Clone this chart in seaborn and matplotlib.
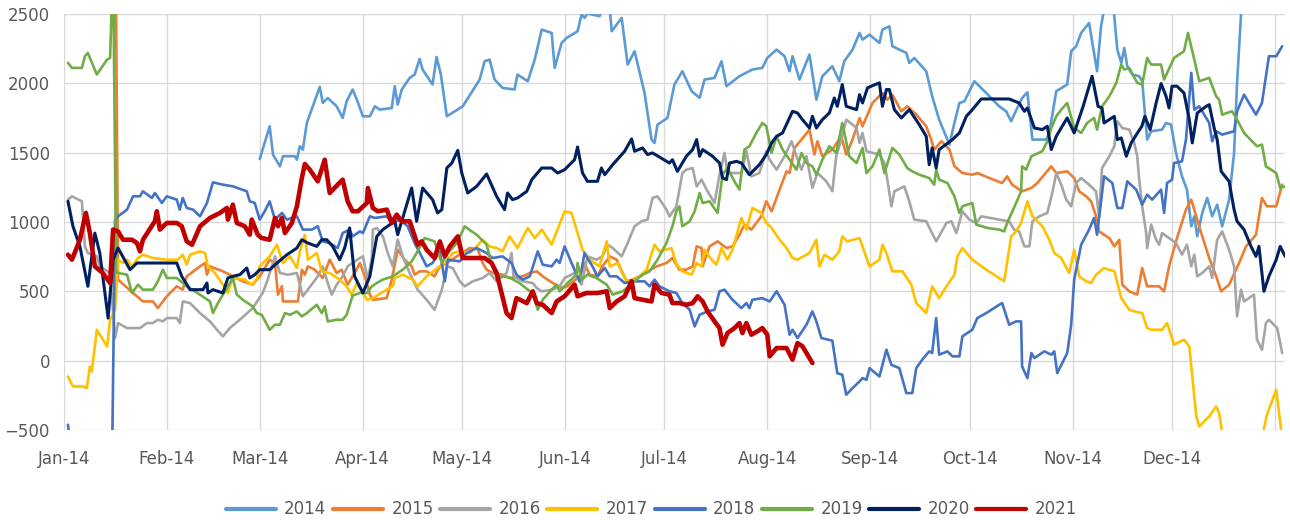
import pandas as pd
import matplotlib
matplotlib.use('Agg')
import matplotlib.pyplot as plt
import seaborn as sns

start = pd.Timestamp('2014-01-01')

# (days since 1 Jan, value)
pts_2014 = [(59.0, 1455), (62.0, 1691), (63.0, 1487), (65.1, 1402), (66.0, 1475), (69.6, 1475), (70.2, 1450),
            (71.1, 1547), (72.0, 1523), (73.2, 1715), (75.0, 1835), (77.1, 1975), (78.0, 1860), (79.5, 1895),
            (82.2, 1835), (84.0, 1751), (85.2, 1871), (87.0, 1956), (88.3, 1883), (90.1, 1763), (92.2, 1763),
            (93.7, 1835), (95.2, 1811), (98.8, 1823), (99.7, 1980), (100.6, 1847), (101.8, 1956), (104.2, 2040),
            (105.7, 2064), (107.2, 2177), (108.1, 2100), (111.1, 1992), (112.3, 2191), (113.6, 2064), (115.4, 1763),
            (120.2, 1835), (125.3, 2028), (126.8, 2160), (128.3, 2172), (129.8, 2028), (132.2, 1968), (135.8, 1956),
            (136.7, 2064), (139.8, 2016), (141.9, 2172), (144.0, 2388), (147.0, 2364), (147.9, 2112), (150.0, 2292),
            (151.5, 2328), (154.8, 2376), (156.0, 2497), (156.9, 2473), (157.8, 2504), (161.4, 2485), (163.0, 2560),
            (164.5, 2540), (165.1, 2376), (168.1, 2473), (169.9, 2136), (172.0, 2232), (175.0, 1931), (177.1, 1595),
            (178.0, 1571), (178.9, 1703), (181.9, 1751), (184.0, 1992), (186.4, 2088), (189.2, 1944), (191.6, 1896),
            (193.1, 2028), (196.1, 2040), (198.2, 2160), (199.7, 1980), (203.6, 2052), (207.5, 2100), (210.5, 2112),
            (212.0, 2184), (214.8, 2244), (217.2, 2196), (218.7, 2088), (219.6, 2196), (221.7, 2028), (224.7, 2208),
            (226.8, 1883), (228.6, 2052), (231.6, 2124), (233.7, 2016), (235.2, 2160), (237.7, 2244), (239.8, 2364),
            (240.7, 2316), (242.8, 2352), (245.8, 2292), (246.7, 2388), (248.8, 2412), (249.7, 2268), (253.9, 2220),
            (254.8, 2148), (256.3, 2184), (259.9, 2088), (261.7, 1907), (263.8, 1739), (266.9, 1559), (268.4, 1715),
            (269.9, 1859), (271.4, 1871), (274.4, 2016), (278.0, 1931), (281.9, 1835), (284.0, 1799), (285.5, 1727),
            (286.4, 1775), (288.8, 1895), (290.4, 1936), (291.9, 1595), (296.1, 1595), (297.0, 1643), (299.1, 1944),
            (302.4, 1992), (303.6, 2232), (305.1, 2268), (306.6, 2364), (309.0, 2436), (311.4, 2088), (312.6, 2412),
            (314.4, 2650), (316.3, 2560), (317.5, 2244), (318.7, 2148), (319.6, 2256), (320.5, 2124), (322.0, 2064),
            (324.1, 2052), (325.0, 2016), (326.5, 1595), (327.7, 1655), (331.0, 1667), (332.2, 1715), (333.7, 1703),
            (335.2, 1499), (337.0, 1330), (338.5, 1234), (339.8, 970), (340.7, 1042), (341.6, 898), (343.1, 1066),
            (344.6, 1174), (346.1, 1042), (347.6, 1126), (349.1, 970), (351.2, 1162), (352.7, 1499), (353.6, 2004),
            (355.7, 2870)]

pts_2015 = [(15.5, 3200), (16.3, 585), (20.8, 489), (23.8, 428), (26.8, 428), (28.3, 380), (31.0, 465), (34.0, 537),
            (35.8, 513), (37.0, 609), (41.0, 681), (42.5, 705), (43.1, 621), (44.0, 681), (47.9, 645), (50.9, 609),
            (53.9, 573), (56.9, 549), (59.0, 609), (62.0, 729), (63.6, 705), (64.5, 477), (65.7, 537), (66.0, 428),
            (70.5, 428), (71.7, 657), (72.6, 621), (73.5, 681), (75.6, 657), (76.5, 633), (78.0, 597), (80.1, 729),
            (82.2, 633), (83.7, 657), (85.5, 549), (87.6, 633), (89.2, 705), (90.7, 609), (92.2, 477), (93.1, 440),
            (97.3, 452), (98.8, 585), (100.6, 801), (102.7, 729), (104.8, 681), (105.7, 621), (107.2, 645),
            (109.3, 645), (111.7, 609), (113.3, 681), (115.4, 705), (118.4, 753), (122.3, 813), (124.7, 806),
            (126.2, 705), (127.4, 657), (129.2, 633), (132.2, 621), (134.3, 597), (138.3, 609), (140.4, 633),
            (142.5, 645), (144.3, 609), (147.3, 561), (150.0, 525), (151.8, 537), (155.4, 609), (156.9, 705),
            (158.4, 621), (160.8, 609), (162.3, 681), (164.5, 753), (166.6, 729), (168.4, 633), (169.6, 573),
            (171.4, 585), (174.4, 621), (178.6, 681), (181.6, 705), (183.4, 741), (185.5, 657), (187.6, 657),
            (189.5, 681), (190.7, 825), (192.2, 813), (192.5, 681), (194.6, 825), (197.0, 861), (199.7, 813),
            (201.5, 825), (203.6, 909), (205.1, 982), (207.2, 946), (208.7, 994), (210.2, 1042), (211.7, 1150),
            (213.3, 1078), (215.7, 1234), (217.8, 1366), (218.7, 1354), (220.2, 1535), (222.3, 1595), (224.7, 1667),
            (226.2, 1487), (227.1, 1583), (228.6, 1475), (231.6, 1523), (234.3, 1619), (235.8, 1487), (237.7, 1595),
            (239.8, 1751), (240.7, 1691), (243.7, 1859), (246.7, 1931), (248.2, 1883), (249.7, 1919), (252.4, 1799),
            (254.2, 1835), (256.9, 1775), (259.9, 1691), (261.4, 1595), (262.3, 1523), (264.5, 1583), (266.9, 1523),
            (268.4, 1402), (270.8, 1354), (273.8, 1342), (275.3, 1354), (278.9, 1318), (282.8, 1282), (284.3, 1330),
            (285.8, 1270), (288.8, 1222), (291.6, 1246), (293.4, 1282), (295.5, 1342), (297.6, 1402), (299.1, 1354),
            (302.4, 1366), (304.5, 1318), (306.0, 1222), (308.1, 1186), (309.6, 1150), (311.1, 1042), (312.0, 933),
            (313.5, 909), (315.1, 885), (316.6, 825), (318.1, 873), (319.0, 549), (321.1, 501), (323.5, 477),
            (325.0, 669), (326.5, 537), (330.1, 537), (331.6, 501), (333.1, 681), (335.5, 885), (338.2, 1090),
            (339.8, 1162), (341.3, 1042), (342.8, 921), (345.2, 741), (347.3, 609), (348.8, 501), (351.2, 549),
            (354.2, 705), (356.3, 825), (359.3, 909), (361.1, 1174), (362.6, 1114), (365.4, 1114), (367.2, 1270)]

pts_2016 = [(1.2, 1162), (2.4, 1186), (5.4, 1150), (6.3, 825), (7.2, 777), (9.9, 753), (10.8, 681), (13.9, 633),
            (15.4, 164), (16.3, 272), (19.0, 236), (22.9, 236), (25.0, 272), (26.8, 272), (28.3, 296), (29.8, 284),
            (31.0, 308), (34.0, 308), (34.9, 272), (35.8, 428), (38.0, 416), (41.0, 344), (44.0, 284), (46.1, 224),
            (47.9, 176), (50.0, 236), (53.0, 296), (56.9, 380), (59.9, 489), (61.4, 585), (63.6, 753), (65.1, 633),
            (67.5, 621), (70.2, 633), (72.0, 465), (75.0, 561), (76.5, 609), (78.0, 681), (79.5, 561), (80.7, 477),
            (82.2, 549), (84.0, 609), (85.5, 681), (87.0, 705), (89.2, 741), (90.1, 753), (91.6, 585), (92.8, 741),
            (93.1, 946), (94.3, 958), (96.1, 898), (97.6, 777), (99.1, 681), (100.6, 873), (102.1, 753), (104.2, 633),
            (106.6, 513), (109.3, 440), (111.7, 368), (113.9, 513), (115.4, 681), (117.2, 669), (119.3, 573),
            (120.8, 537), (123.2, 573), (126.2, 597), (128.3, 633), (130.4, 573), (133.4, 633), (134.9, 777),
            (135.5, 609), (138.3, 573), (141.3, 561), (142.5, 525), (144.0, 501), (147.3, 513), (149.4, 537),
            (150.9, 597), (153.9, 633), (156.0, 549), (157.8, 753), (160.5, 729), (162.3, 753), (163.9, 837),
            (165.4, 813), (168.1, 753), (169.9, 849), (172.0, 970), (174.1, 1006), (175.9, 1018), (177.4, 1174),
            (178.9, 1186), (181.6, 1090), (182.5, 1040), (184.6, 1114), (186.4, 1354), (187.6, 1378), (189.5, 1390),
            (190.7, 1258), (192.2, 1306), (193.7, 1234), (196.1, 1138), (197.6, 1342), (199.1, 1499), (200.0, 1354),
            (204.2, 1354), (205.7, 1511), (207.2, 1330), (209.6, 1354), (211.7, 1511), (212.7, 1450), (214.8, 1378),
            (217.2, 1475), (219.3, 1583), (220.8, 1475), (222.3, 1378), (223.8, 1475), (225.6, 1246), (227.1, 1354),
            (229.8, 1294), (231.6, 1222), (232.8, 1480), (234.3, 1595), (235.8, 1739), (238.9, 1679), (239.8, 1571),
            (240.7, 1643), (241.9, 1511), (245.8, 1487), (247.3, 1426), (248.2, 1306), (249.4, 1114), (250.3, 1222),
            (253.3, 1258), (254.8, 1150), (256.3, 1018), (259.9, 1006), (262.9, 861), (266.0, 994), (267.5, 1006),
            (269.0, 921), (270.8, 1078), (272.9, 1018), (275.0, 994), (276.5, 1042), (281.9, 1018), (284.9, 1006),
            (286.4, 946), (287.9, 933), (289.5, 825), (291.0, 825), (291.9, 1006), (294.0, 1042), (296.4, 1066),
            (297.9, 1210), (299.1, 1354), (300.6, 1270), (302.1, 1162), (303.6, 1114), (305.1, 1282), (306.6, 1318),
            (309.0, 1270), (311.1, 1222), (312.0, 1042), (312.9, 1390), (315.1, 1475), (316.6, 1547), (317.5, 1727),
            (319.0, 1679), (321.1, 1667), (322.6, 1571), (323.5, 1475), (324.1, 1306), (325.0, 1114), (326.2, 921),
            (326.5, 813), (327.7, 982), (329.2, 873), (330.1, 837), (331.0, 921), (333.1, 885), (335.2, 849),
            (337.0, 765), (338.5, 837), (339.8, 681), (340.7, 765), (341.6, 609), (343.1, 633), (345.2, 681),
            (346.1, 597), (347.6, 873), (349.1, 933), (351.2, 801), (352.7, 681), (353.6, 320), (354.8, 513),
            (355.7, 428), (358.7, 477), (359.6, 152), (361.1, 80), (362.3, 272), (363.2, 296), (365.7, 236),
            (367.2, 56)]

pts_2017 = [(1.2, -113), (2.7, -185), (5.7, -185), (6.9, -197), (7.8, -41), (8.4, -77), (9.9, 224), (13.0, 104),
            (13.9, 296), (15.4, 368), (16.3, 729), (17.8, 705), (19.0, 729), (20.5, 681), (22.3, 741), (23.8, 765),
            (26.8, 741), (31.0, 729), (34.3, 729), (35.8, 765), (37.0, 693), (38.0, 765), (41.0, 789), (42.5, 777),
            (43.4, 681), (45.5, 633), (47.9, 549), (49.4, 489), (50.9, 597), (54.5, 585), (56.6, 549), (58.1, 585),
            (59.0, 681), (62.0, 753), (64.2, 837), (66.0, 705), (68.1, 753), (70.2, 669), (71.1, 789), (72.6, 909),
            (73.5, 729), (76.2, 777), (77.7, 645), (80.1, 633), (83.1, 585), (85.2, 537), (86.7, 477), (88.3, 561),
            (91.3, 440), (93.1, 452), (97.3, 513), (99.1, 537), (99.7, 597), (102.1, 621), (105.1, 585), (106.6, 537),
            (109.3, 609), (112.6, 669), (114.8, 705), (117.2, 777), (119.3, 789), (122.3, 777), (124.4, 825),
            (126.2, 873), (128.3, 825), (130.4, 813), (132.2, 789), (134.3, 897), (136.7, 813), (139.8, 958),
            (141.9, 885), (144.0, 946), (147.0, 837), (150.9, 1078), (153.0, 1066), (156.3, 801), (158.4, 729),
            (161.4, 681), (163.6, 861), (164.5, 681), (166.9, 705), (169.0, 597), (170.5, 561), (173.5, 609),
            (175.6, 657), (178.0, 837), (179.5, 789), (183.1, 813), (184.6, 700), (186.4, 645), (189.2, 621),
            (190.7, 705), (192.2, 681), (193.1, 801), (195.2, 729), (196.7, 693), (198.2, 813), (200.0, 729),
            (201.5, 801), (204.2, 1030), (205.7, 946), (207.5, 1102), (210.2, 1066), (211.7, 994), (213.3, 958),
            (215.7, 873), (217.8, 813), (219.6, 741), (221.1, 729), (224.7, 777), (226.8, 873), (227.7, 681),
            (229.2, 765), (231.6, 729), (233.7, 789), (234.6, 897), (236.1, 861), (239.8, 885), (242.8, 681),
            (245.8, 729), (246.7, 837), (247.9, 777), (249.7, 645), (252.7, 645), (255.4, 549), (256.9, 416),
            (259.9, 344), (261.7, 537), (263.8, 452), (266.0, 537), (268.4, 621), (269.3, 753), (270.8, 813),
            (273.8, 729), (278.0, 657), (281.9, 597), (283.4, 573), (285.5, 897), (287.0, 933), (288.5, 994),
            (290.4, 1150), (291.9, 1042), (294.9, 970), (297.0, 873), (298.5, 777), (300.6, 741), (303.0, 633),
            (304.5, 801), (306.0, 609), (308.1, 573), (309.6, 561), (311.1, 621), (313.5, 669), (316.6, 645),
            (318.7, 452), (321.1, 368), (323.5, 350), (325.0, 344), (326.5, 236), (327.7, 224), (331.0, 224),
            (332.5, 272), (334.6, 116), (337.6, 152), (339.2, 104), (341.3, -401), (342.2, -473), (345.2, -401),
            (347.3, -329), (348.2, -377), (349.4, -560), (352.7, -700), (357.2, -700), (361.1, -560), (362.6, -389),
            (365.4, -209), (367.2, -560), (368.4, -700)]

pts_2018 = [(1.2, -461), (2.4, -700), (14.5, -700), (15.4, 1018), (16.3, 1042), (19.0, 1090), (20.8, 1186),
            (22.9, 1186), (23.8, 1222), (26.5, 1174), (27.4, 1210), (29.5, 1138), (31.0, 1186), (34.0, 1162),
            (34.9, 1090), (35.8, 1174), (37.0, 1102), (38.9, 1090), (41.0, 1042), (43.1, 1138), (44.9, 1287),
            (47.9, 1270), (50.9, 1258), (55.1, 1222), (56.0, 1150), (57.5, 1138), (59.0, 1018), (60.5, 1078),
            (62.0, 1150), (63.6, 1018), (65.7, 1066), (67.2, 1018), (70.2, 1042), (72.0, 946), (74.7, 946),
            (76.5, 970), (78.0, 861), (80.1, 849), (82.5, 813), (84.0, 921), (86.1, 946), (87.0, 897), (89.2, 933),
            (90.1, 921), (92.2, 1042), (93.7, 1030), (97.3, 1042), (98.8, 994), (101.2, 1018), (103.6, 970),
            (105.7, 849), (107.8, 753), (109.3, 681), (111.1, 705), (113.3, 789), (114.8, 573), (115.7, 729),
            (119.3, 717), (121.4, 777), (124.4, 813), (127.4, 777), (129.2, 741), (132.2, 753), (134.9, 705),
            (136.4, 621), (138.3, 585), (140.4, 609), (142.8, 789), (144.3, 693), (147.0, 681), (148.5, 729),
            (149.4, 705), (150.9, 825), (153.0, 705), (155.4, 573), (156.9, 777), (159.3, 681), (160.8, 609),
            (163.0, 669), (164.5, 609), (166.6, 609), (169.0, 561), (172.0, 573), (175.0, 573), (176.5, 537),
            (178.0, 585), (179.5, 537), (182.5, 501), (184.6, 489), (186.4, 416), (188.6, 368), (190.1, 248),
            (191.6, 332), (194.0, 356), (196.1, 368), (197.6, 501), (199.1, 513), (201.5, 440), (204.2, 380),
            (205.7, 416), (206.6, 380), (207.5, 440), (210.5, 452), (212.7, 428), (214.8, 501), (217.2, 404),
            (218.7, 188), (219.6, 224), (221.1, 164), (223.8, 260), (225.6, 356), (226.8, 284), (228.3, 164),
            (231.6, 145), (233.1, -89), (234.6, -101), (235.8, -245), (237.7, -197), (239.8, -149), (240.7, -125),
            (241.9, -137), (242.8, -53), (245.8, -113), (247.9, 80), (249.4, -29), (251.8, -53), (253.9, -233),
            (255.7, -233), (256.9, -53), (258.7, 8), (260.8, 68), (261.7, 56), (262.9, 308), (263.8, 44),
            (266.3, 68), (267.8, 32), (269.9, 32), (270.8, 176), (273.8, 224), (275.3, 308), (278.0, 344),
            (281.9, 404), (282.8, 416), (284.9, 260), (287.0, 284), (288.5, 284), (288.8, -41), (290.4, -125),
            (291.6, 56), (292.5, 20), (295.5, 68), (297.6, 44), (298.5, 68), (299.4, -89), (302.4, 56), (303.6, 260),
            (304.5, 585), (306.6, 837), (309.0, 946), (310.5, 1030), (311.4, 909), (313.5, 1330), (316.0, 1282),
            (317.5, 1102), (319.0, 1102), (320.5, 1294), (323.2, 1234), (325.0, 1126), (326.5, 1198), (328.0, 1162),
            (330.7, 1234), (331.6, 1066), (332.5, 1282), (334.0, 1306), (334.6, 1426), (337.0, 1438), (338.2, 1595),
            (339.8, 2076), (340.7, 1811), (342.2, 1835), (343.7, 1775), (345.2, 1715), (346.1, 1583), (347.3, 1655),
            (349.1, 1631), (352.7, 1655), (353.6, 1799), (355.7, 1919), (359.3, 1775), (361.1, 1859), (362.3, 2052),
            (363.2, 2196), (365.4, 2196), (367.2, 2268)]

pts_2019 = [(1.2, 2148), (2.4, 2112), (5.4, 2112), (6.3, 2196), (7.2, 2220), (9.9, 2064), (13.0, 2172),
            (13.9, 2184), (14.8, 2900), (15.7, 640), (16.3, 633), (19.0, 621), (20.5, 489), (22.3, 549), (23.8, 513),
            (26.8, 513), (28.3, 573), (29.8, 657), (31.0, 597), (34.0, 597), (37.0, 537), (41.0, 477), (44.0, 428),
            (44.9, 344), (46.4, 416), (47.9, 477), (50.0, 561), (50.9, 597), (52.1, 477), (53.9, 440), (56.9, 392),
            (58.1, 344), (59.6, 332), (62.0, 224), (63.6, 260), (65.1, 260), (66.6, 344), (68.1, 332), (70.2, 356),
            (71.7, 320), (73.2, 344), (76.2, 404), (77.7, 344), (78.6, 392), (79.5, 284), (82.2, 296), (84.0, 296),
            (85.2, 332), (87.0, 470), (89.2, 489), (91.3, 489), (92.8, 537), (94.3, 561), (96.1, 585), (99.1, 609),
            (102.1, 657), (104.8, 717), (106.3, 777), (108.7, 885), (111.7, 861), (113.9, 705), (115.7, 777),
            (118.4, 849), (120.8, 970), (122.9, 933), (124.4, 909), (127.4, 837), (128.9, 693), (130.4, 609),
            (132.2, 609), (134.3, 600), (137.3, 561), (139.8, 513), (141.3, 489), (142.8, 368), (144.3, 440),
            (147.0, 513), (148.5, 549), (149.4, 501), (151.8, 561), (154.5, 621), (154.8, 705), (156.0, 585),
            (157.8, 621), (160.5, 597), (163.6, 549), (165.4, 477), (168.4, 501), (171.4, 561), (174.4, 621),
            (176.5, 645), (178.9, 729), (181.6, 849), (183.4, 970), (184.6, 1080), (185.5, 1114), (186.4, 970),
            (188.6, 1006), (190.1, 1078), (191.6, 1210), (192.5, 1138), (194.6, 1150), (197.0, 1066), (198.5, 1342),
            (200.0, 1390), (202.1, 1294), (203.6, 1234), (205.1, 1523), (206.6, 1547), (208.7, 1643), (210.5, 1715),
            (211.7, 1691), (213.3, 1499), (214.8, 1619), (216.6, 1523), (218.7, 1450), (220.8, 1378), (222.3, 1499),
            (223.8, 1426), (225.6, 1402), (226.8, 1342), (228.6, 1450), (230.7, 1547), (232.8, 1499), (234.6, 1715),
            (236.7, 1475), (238.9, 1426), (240.7, 1535), (241.9, 1354), (243.7, 1402), (245.8, 1523), (247.3, 1354),
            (249.7, 1535), (251.8, 1487), (254.2, 1390), (255.7, 1366), (257.8, 1342), (260.8, 1318), (262.3, 1270),
            (262.9, 1378), (263.8, 1306), (266.3, 1282), (268.4, 1186), (269.9, 1066), (270.8, 1114), (273.8, 1138),
            (275.0, 982), (278.3, 958), (281.9, 946), (283.4, 933), (284.3, 994), (287.0, 1138), (288.5, 1222),
            (288.8, 1402), (290.0, 1378), (291.6, 1475), (294.9, 1511), (296.4, 1583), (297.6, 1679), (299.1, 1763),
            (300.6, 1811), (302.4, 1859), (304.5, 1679), (306.6, 1643), (308.4, 1715), (310.5, 1751), (311.4, 1667),
            (312.9, 1835), (315.1, 1907), (317.2, 2004), (318.7, 2136), (319.6, 2100), (321.1, 2112), (323.5, 2004),
            (325.0, 1992), (326.5, 2184), (327.7, 2136), (330.7, 2136), (331.6, 2028), (334.6, 2184), (337.6, 2232),
            (338.8, 2364), (340.7, 2172), (342.2, 2016), (345.2, 2040), (347.3, 1907), (348.2, 1883), (349.1, 1775),
            (352.1, 1799), (353.6, 1739), (355.7, 1643), (359.6, 1547), (361.1, 1559), (362.3, 1402), (365.4, 1354),
            (366.6, 1246), (368.1, 1258)]

pts_2020 = [(1.2, 1150), (2.7, 970), (4.8, 825), (7.2, 537), (9.3, 921), (10.8, 777), (13.3, 308), (14.8, 729),
            (16.3, 813), (19.9, 657), (22.0, 705), (34.0, 705), (35.5, 609), (38.0, 513), (41.9, 513), (43.1, 561),
            (43.4, 489), (44.9, 513), (47.9, 489), (49.4, 597), (50.9, 609), (53.0, 621), (55.1, 669), (56.0, 597),
            (57.5, 621), (59.0, 657), (62.0, 657), (64.2, 705), (67.2, 765), (70.2, 813), (71.7, 873), (73.5, 849),
            (76.2, 825), (77.7, 873), (79.2, 873), (81.0, 825), (83.1, 729), (84.6, 813), (86.1, 958), (87.6, 609),
            (90.1, 489), (92.2, 609), (94.3, 897), (96.1, 946), (99.7, 1006), (100.6, 909), (101.8, 1006),
            (104.8, 1246), (106.3, 1006), (108.1, 1246), (111.1, 1162), (112.6, 1066), (113.9, 1090), (115.4, 1390),
            (116.9, 1426), (118.7, 1517), (119.9, 1354), (121.7, 1210), (124.4, 1258), (127.4, 1347), (130.4, 1186),
            (132.8, 1090), (133.7, 1210), (135.2, 1162), (136.7, 1174), (139.5, 1222), (141.0, 1306), (144.0, 1390),
            (147.0, 1390), (148.8, 1354), (150.9, 1378), (153.9, 1450), (154.8, 1542), (156.3, 1354), (157.8, 1294),
            (160.8, 1294), (162.0, 1390), (163.0, 1342), (165.4, 1414), (169.0, 1511), (171.1, 1600), (172.0, 1511),
            (174.4, 1535), (175.9, 1487), (177.4, 1499), (182.5, 1426), (183.4, 1450), (184.9, 1366), (187.6, 1475),
            (189.5, 1523), (190.7, 1595), (191.6, 1475), (192.5, 1523), (195.5, 1475), (197.6, 1426), (198.5, 1318),
            (199.7, 1306), (200.6, 1426), (202.7, 1438), (204.2, 1426), (206.6, 1342), (209.6, 1414), (211.7, 1487),
            (213.3, 1571), (214.8, 1619), (216.6, 1643), (219.6, 1799), (221.1, 1787), (222.6, 1739), (224.7, 1679),
            (225.6, 1763), (226.8, 1679), (228.6, 1739), (230.7, 1787), (232.2, 1895), (233.1, 1835), (234.6, 1992),
            (235.8, 1835), (238.9, 1811), (239.8, 1919), (240.7, 1859), (242.2, 1968), (243.7, 1984), (245.8, 2004),
            (246.7, 1835), (247.9, 1956), (248.8, 1956), (250.3, 1811), (252.4, 1751), (254.8, 1811), (257.8, 1703),
            (259.9, 1619), (260.8, 1414), (261.7, 1535), (262.9, 1390), (263.8, 1523), (267.8, 1595), (269.9, 1643),
            (272.0, 1763), (273.8, 1811), (276.5, 1888), (284.9, 1888), (287.9, 1859), (289.5, 1799), (290.4, 1823),
            (292.5, 1679), (294.9, 1667), (296.4, 1691), (297.6, 1523), (299.1, 1619), (302.4, 1751), (304.5, 1643),
            (307.2, 1835), (309.9, 2052), (311.7, 1835), (312.9, 1823), (313.5, 1715), (316.6, 1763), (317.5, 1595),
            (318.7, 1607), (320.2, 1475), (321.7, 1571), (323.5, 1640), (324.9, 1691), (325.8, 1763), (327.4, 1667),
            (329.2, 1859), (330.7, 1999), (332.2, 1907), (333.1, 1823), (334.0, 1980), (335.5, 1980), (337.6, 1931),
            (339.2, 1739), (340.1, 1571), (341.6, 1787), (344.3, 1835), (345.2, 1847), (346.7, 1679), (347.6, 1595),
            (348.8, 1366), (351.2, 1294), (352.7, 1090), (353.6, 1006), (355.7, 946), (357.8, 825), (359.3, 753),
            (360.2, 825), (361.7, 501), (363.2, 609), (365.4, 729), (366.6, 825), (368.1, 753)]

pts_2021 = [(1.2, 765), (2.4, 729), (4.8, 873), (6.6, 1066), (7.8, 921), (9.3, 681), (11.7, 633), (13.9, 561),
            (14.8, 946), (16.3, 933), (17.8, 873), (20.5, 873), (22.0, 849), (22.9, 789), (23.8, 873), (27.4, 1006),
            (28.0, 1078), (28.9, 946), (31.0, 994), (34.0, 994), (35.5, 970), (37.0, 861), (38.6, 837), (41.0, 970),
            (44.0, 1030), (47.0, 1066), (49.1, 1102), (49.4, 1018), (50.9, 1126), (52.1, 994), (54.5, 970),
            (56.0, 909), (56.6, 1018), (58.4, 909), (59.6, 885), (62.0, 873), (63.6, 1030), (64.5, 970), (65.7, 1030),
            (66.6, 921), (68.7, 994), (70.2, 1114), (71.7, 1318), (72.6, 1419), (74.1, 1378), (76.5, 1294),
            (78.6, 1450), (80.1, 1210), (82.5, 1270), (84.0, 1306), (85.5, 1150), (87.0, 1078), (88.6, 1078),
            (91.3, 1138), (91.6, 1246), (93.1, 1102), (94.6, 1078), (97.3, 1090), (98.8, 994), (100.3, 1054),
            (101.8, 1006), (104.2, 1006), (106.6, 837), (107.8, 861), (109.3, 801), (111.7, 741), (113.3, 861),
            (114.8, 753), (116.3, 825), (118.7, 897), (120.2, 741), (126.8, 741), (128.9, 705), (130.4, 633),
            (133.4, 344), (134.9, 308), (136.4, 452), (139.5, 416), (141.3, 501), (142.5, 416), (144.3, 404),
            (147.0, 344), (148.5, 428), (150.9, 465), (153.9, 549), (154.8, 465), (157.5, 489), (160.8, 489),
            (163.6, 501), (164.5, 380), (166.6, 428), (169.0, 465), (171.1, 573), (172.0, 452), (174.4, 440),
            (177.1, 428), (178.0, 549), (180.1, 489), (182.5, 477), (183.4, 416), (185.5, 416), (187.6, 404),
            (189.5, 416), (191.0, 465), (192.5, 428), (194.0, 356), (196.1, 284), (197.6, 236), (198.5, 116),
            (200.0, 200), (202.1, 236), (203.6, 272), (204.5, 200), (205.7, 272), (207.2, 188), (209.0, 212),
            (210.5, 236), (212.0, 188), (212.7, 32), (214.8, 92), (217.8, 92), (219.6, 8), (221.1, 128), (222.6, 104),
            (225.6, -16)]

years = ['2014', '2015', '2016', '2017', '2018', '2019', '2020', '2021']
series = [pts_2014, pts_2015, pts_2016, pts_2017, pts_2018, pts_2019, pts_2020, pts_2021]
colors = ['#5B9BD5', '#ED7D31', '#A5A5A5', '#FFC000', '#4472C4', '#70AD47', '#002060', '#C00000']
widths = [1.9, 1.9, 1.9, 1.9, 1.9, 1.9, 2.2, 3.3]
month_labels = ['Jan-14', 'Feb-14', 'Mar-14', 'Apr-14', 'May-14', 'Jun-14', 'Jul-14', 'Aug-14',
                'Sep-14', 'Oct-14', 'Nov-14', 'Dec-14', '']

sns.set_theme(style='white')
plt.rcParams['font.family'] = ['DejaVu Sans']

fig, ax = plt.subplots(figsize=(12.9, 5.22), dpi=100)
fig.subplots_adjust(left=0.0496, right=0.996, top=0.973, bottom=0.176)

for yr, pts, col, lw in zip(years, series, colors, widths):
    df = pd.DataFrame(pts, columns=['day', 'value'])
    df['date'] = start + pd.to_timedelta(df['day'], unit='D')
    sns.lineplot(data=df, x='date', y='value', color=col, linewidth=lw, label=yr, ax=ax,
                 estimator=None, sort=False, solid_joinstyle='round')

month_starts = pd.date_range('2014-01-01', periods=13, freq='MS')
ax.set_xticks(month_starts)
ax.set_xticklabels(month_labels)
ax.set_xlim(start, start + pd.Timedelta(days=368))
ax.set_ylim(-500, 2500)
ax.set_yticks(range(-500, 2501, 500))
ax.set_xlabel('')
ax.set_ylabel('')
ax.grid(True, color='#D9D9D9', linewidth=1.0)
ax.set_axisbelow(True)
for s in ax.spines.values():
    s.set_visible(False)
ax.tick_params(axis='both', length=0, labelsize=12, colors='#595959')
ax.tick_params(axis='x', pad=14)
ax.tick_params(axis='y', pad=10)

leg = ax.legend(loc='center', bbox_to_anchor=(0.505, 0.024), bbox_transform=fig.transFigure,
                ncol=8, frameon=False, fontsize=12, handlelength=3.0, handletextpad=0.5,
                columnspacing=0.4)
for line in leg.get_lines():
    line.set_linewidth(3.0)
for t in leg.get_texts():
    t.set_color('#595959')

fig.savefig('out.png', dpi=100)
